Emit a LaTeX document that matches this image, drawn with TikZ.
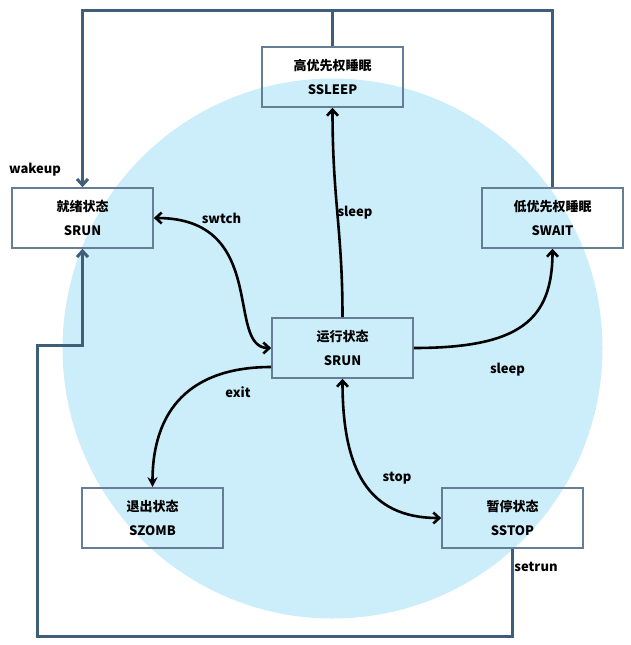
\documentclass[tikz,border=0pt]{standalone}
\usepackage{fontspec}
\setmainfont{Noto Sans CJK SC}
\usetikzlibrary{arrows.meta}

\definecolor{circleblue}{RGB}{204,238,250}
\definecolor{slate}{RGB}{62,94,122}

\begin{document}
\begin{tikzpicture}[x=1pt,y=-1pt,
    state/.style={draw=slate!80, line width=1.6pt, minimum width=141pt, minimum height=60pt,
        inner sep=0pt, align=center, font=\bfseries\fontsize{13}{24}\selectfont},
    barb/.tip={Straight Barb[length=6pt,width=11pt]},
    move/.style={line width=2.6pt, black, -barb},
    loop/.style={line width=3pt, slate, -barb},
    lbl/.style={font=\bfseries\fontsize{13}{15}\selectfont}]

    \useasboundingbox (0,0) rectangle (630,645);
    \def\bigcircle{(332.5,348.5) circle (270pt)}

    %draw circle:
    \fill[circleblue] \bigcircle;

    %draw states:
    \node[state] (ssleep) at (332.5,77) {高优先权睡眠\\SSLEEP};
    \node[state] (ready) at (82.5,218) {就绪状态\\SRUN};
    \node[state] (swait) at (552.5,218) {低优先权睡眠\\SWAIT};
    \node[state] (run) at (342.5,348) {运行状态\\SRUN};
    \node[state] (szomb) at (152.5,518) {退出状态\\SZOMB};
    \node[state] (sstop) at (512.5,518) {暂停状态\\SSTOP};

    %draw outer lines:
    \coordinate (top) at (332.5,10);
    \coordinate (bend) at (37,345);
    \draw[loop] (swait.north) |- (top) -| (ready.north);
    \draw[loop,-] (ssleep.north) -- (top);
    \draw[loop] (sstop.south) -- ++(0,88) -| (bend) -| (ready.south);

    %draw moves:
    \draw[move] (run.north) .. controls (342.5,230) and (332.5,200) .. (ssleep.south);
    \draw[move,barb-barb] (ready.east) .. controls (270,218) and (225,348) .. (run.west);
    \draw[move] (run.east) .. controls (520,348) and (552.5,320) .. (swait.south);
    \draw[move,-{Stealth[length=10pt,width=10pt]}] ([yshift=-19pt]run.west)
        .. controls (190,367) and (152.5,410) .. (szomb.north);
    \draw[move,barb-barb] (run.south) .. controls (342.5,470) and (368,518) .. (sstop.west);

    %draw labels:
    \node[lbl] (wakeup) at (35,170) {wakeup};
    \node[lbl] (swtch) at (221.5,218) {swtch};
    \node[lbl] (sleepup) at (355,213) {sleep};
    \node[lbl] (sleepright) at (507.5,370) {sleep};
    \node[lbl] (exit) at (238,392) {exit};
    \node[lbl] (stop) at (397,478) {stop};
    \node[lbl] (setrun) at (536,567) {setrun};

\end{tikzpicture}
\end{document}
